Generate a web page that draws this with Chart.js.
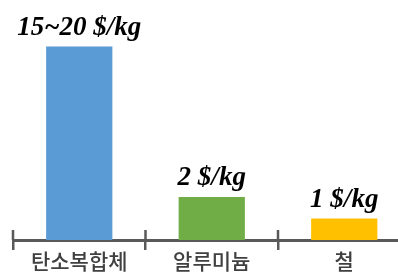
<!DOCTYPE html>
<html>
<head>
<meta charset="utf-8">
<script src="https://cdn.jsdelivr.net/npm/chart.js@4"></script>
<style>
  html, body { margin: 0; padding: 0; background: #fff; overflow: hidden; }
  #wrap { position: relative; width: 415px; height: 273px; }
</style>
</head>
<body>
<div id="wrap"><canvas id="chart"></canvas></div>
<script>
const categories = ['탄소복합체', '알루미늄', '철'];
const relativeCost = [9, 2, 1];
const costLabels = ['15~20 $/kg', '2 $/kg', '1 $/kg'];
const barColors = ['#5b9bd5', '#70ad47', '#ffc000'];

const AXIS_COLOR = '#595959';

// value text above each bar
const barLabels = {
  id: 'barLabels',
  afterDatasetsDraw(chart) {
    const { ctx } = chart;
    const meta = chart.getDatasetMeta(0);
    ctx.save();
    ctx.fillStyle = '#000';
    ctx.font = 'italic bold 27px "Liberation Serif", serif';
    ctx.textAlign = 'center';
    ctx.textBaseline = 'alphabetic';
    meta.data.forEach((bar, i) => {
      ctx.fillText(costLabels[i], bar.x, bar.y - 12);
    });
    ctx.restore();
  },
};

// upper half of the category tick marks (Chart.js only draws them downward)
const upTicks = {
  id: 'upTicks',
  afterDraw(chart) {
    const { ctx } = chart;
    const x = chart.scales.x;
    const half = (x.getPixelForValue(1) - x.getPixelForValue(0)) / 2;
    ctx.save();
    ctx.strokeStyle = AXIS_COLOR;
    ctx.lineWidth = 2.5;
    for (let i = 0; i <= categories.length; i++) {
      const px = x.getPixelForValue(0) - half + i * half * 2;
      ctx.beginPath();
      ctx.moveTo(px, x.top);
      ctx.lineTo(px, x.top - 10);
      ctx.stroke();
    }
    ctx.restore();
  },
};

new Chart(document.getElementById('chart'), {
  type: 'bar',
  data: {
    labels: categories,
    datasets: [{
      data: relativeCost,
      backgroundColor: barColors,
      borderWidth: 0,
      categoryPercentage: 1,
      barPercentage: 0.5,
    }],
  },
  options: {
    responsive: true,
    maintainAspectRatio: false,
    animation: false,
    layout: { padding: { top: 25, left: 13, right: 4.5, bottom: 0 } },
    plugins: { legend: { display: false }, tooltip: { enabled: false } },
    scales: {
      x: {
        grid: {
          display: true,
          drawOnChartArea: false,
          drawTicks: true,
          tickLength: 10,
          color: AXIS_COLOR,
          lineWidth: 2.5,
        },
        border: { display: true, color: AXIS_COLOR, width: 3 },
        ticks: {
          color: '#404040',
          padding: 1,
          font: { family: '"Noto Sans CJK KR", sans-serif', size: 21, weight: '500', lineHeight: 1 },
        },
      },
      y: { display: false, min: 0, max: 10 },
    },
  },
  plugins: [barLabels, upTicks],
});
</script>
</body>
</html>
